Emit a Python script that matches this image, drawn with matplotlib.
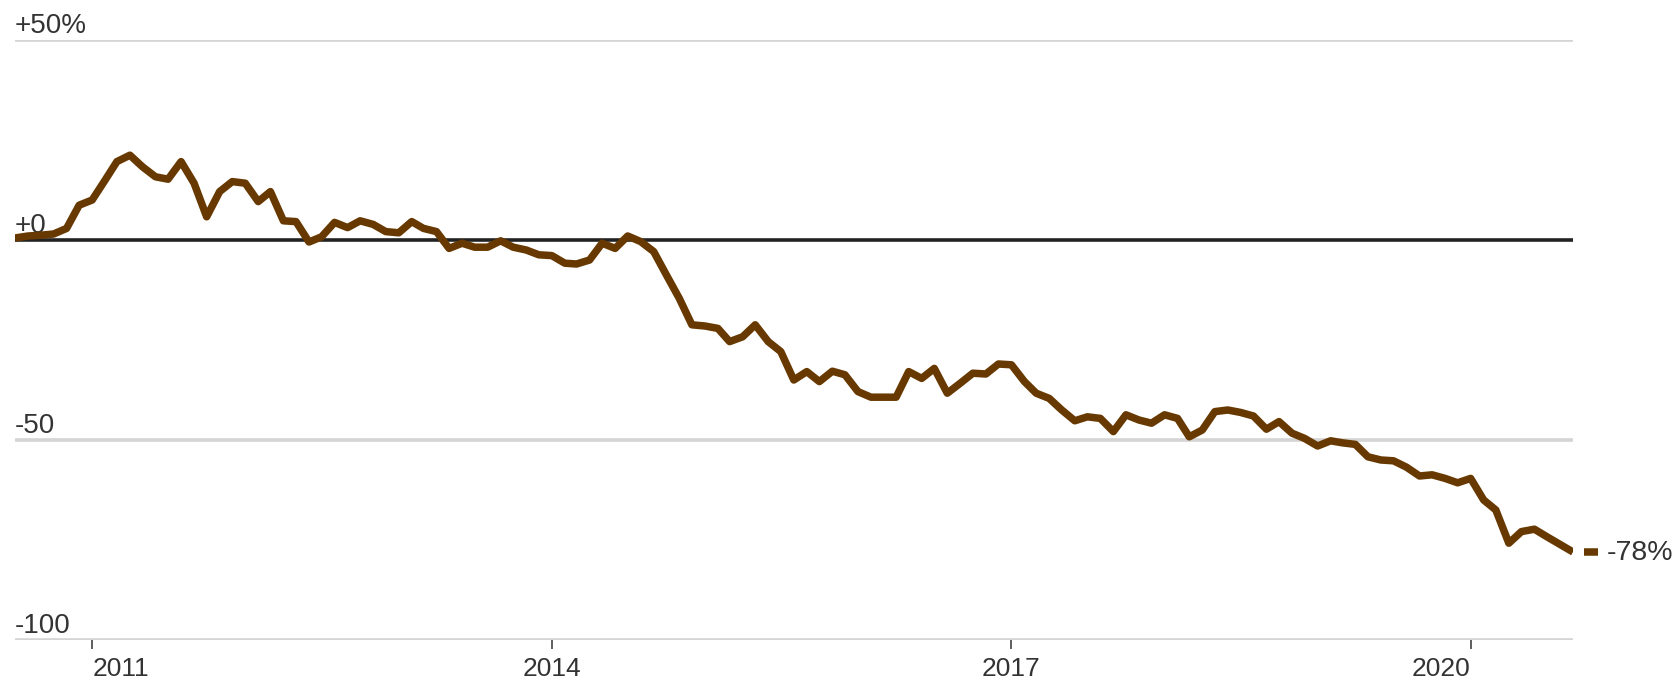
import matplotlib

matplotlib.use("Agg")
import matplotlib.pyplot as plt
import matplotlib.transforms as mtransforms
import pandas as pd

# ---------------------------------------------------------------------------
# Data (monthly % change)
# ---------------------------------------------------------------------------

start_month = "2010-07-01"
pct_change = [
    0.5, 1.0, 1.2, 1.5, 2.9, 8.7, 10.0, 15.0, 19.6, 21.2,
    18.3, 15.8, 15.2, 19.6, 14.2, 5.8, 12.1, 14.6, 14.2, 9.6,
    12.1, 4.8, 4.6, -0.5, 0.8, 4.4, 3.1, 4.8, 3.9, 2.1,
    1.8, 4.6, 2.9, 2.1, -2.1, -0.8, -1.8, -1.8, -0.2, -1.8,
    -2.5, -3.7, -3.9, -5.8, -6.0, -5.0, -0.8, -2.1, 1.0, -0.4,
    -2.9, -8.7, -14.6, -21.2, -21.5, -22.1, -25.4, -24.2, -21.2, -25.4,
    -27.9, -35.0, -32.9, -35.4, -32.8, -33.7, -37.9, -39.3, -39.3, -39.3,
    -32.9, -34.6, -32.1, -38.3, -35.8, -33.3, -33.5, -31.0, -31.2, -35.4,
    -38.3, -39.6, -42.5, -45.2, -44.2, -44.6, -47.9, -43.7, -45.0, -45.8,
    -43.7, -44.6, -49.2, -47.5, -42.9, -42.5, -43.1, -44.0, -47.3, -45.4,
    -48.3, -49.6, -51.5, -50.2, -50.7, -51.1, -54.2, -55.0, -55.2, -56.8,
    -59.0, -58.7, -59.6, -60.7, -59.6, -65.0, -67.5, -75.8, -72.9, -72.3,
    -74.2, -76.1, -78.0,
]
end_label = "-78%"

year_ticks = ["2011", "2014", "2017", "2020"]
year_align = ["left", "center", "center", "right"]
y_grid = [50, -50, -100]
y_labels = {50: "+50%", 0: "+0", -50: "-50", -100: "-100"}

LINE_COLOR = "#673900"
TEXT_COLOR = "#333333"
GRID_COLOR = "#d4d4d4"

plt.rcParams["font.family"] = ["Liberation Sans", "DejaVu Sans"]

dates = pd.date_range(start_month, periods=len(pct_change), freq="MS")

fig = plt.figure(figsize=(16.79, 6.83), dpi=100)
ax = fig.add_axes([15 / 1679, 43 / 683, 1558 / 1679, 600 / 683])

for v in y_grid:
    ax.axhline(v, color=GRID_COLOR, linewidth=2.6, zorder=1)
ax.axhline(0, color="#222222", linewidth=2.6, zorder=2)

ax.plot(dates, pct_change, color=LINE_COLOR, linewidth=5.4,
        solid_joinstyle="round", solid_capstyle="butt", zorder=3)

# end marker + label
last_x, last_y = dates[-1], pct_change[-1]
dash_tr = ax.transData + mtransforms.ScaledTranslation(18 / 100, 0, fig.dpi_scale_trans)
ax.plot([last_x], [last_y], marker="_", markersize=10.5, markeredgewidth=5.4,
        color=LINE_COLOR, transform=dash_tr, clip_on=False)
ax.annotate(end_label, xy=(last_x, last_y), xytext=(24, -1), textcoords="offset points",
            ha="left", va="center", fontsize=20.5, color=TEXT_COLOR,
            annotation_clip=False)

# y labels sit on top of their gridlines
for v, lab in y_labels.items():
    ax.annotate(lab, xy=(0, v), xycoords=("axes fraction", "data"),
                xytext=(0, 5), textcoords="offset points",
                ha="left", va="baseline", fontsize=20, color=TEXT_COLOR,
                zorder=2)

ax.set_xlim(dates[0], dates[-1])
ax.set_ylim(-100, 50)
ax.set_yticks([])
ax.set_xticks(pd.to_datetime([f"{y}-01-01" for y in year_ticks]))
ax.set_xticklabels(year_ticks, fontsize=19, color=TEXT_COLOR)
for lab, ha in zip(ax.get_xticklabels(), year_align):
    lab.set_horizontalalignment(ha)
ax.tick_params(axis="x", length=6.5, width=1.1, color="#333333", pad=6)

for spine in ax.spines.values():
    spine.set_visible(False)
ax.patch.set_alpha(0)

fig.savefig("out.png", dpi=100)
